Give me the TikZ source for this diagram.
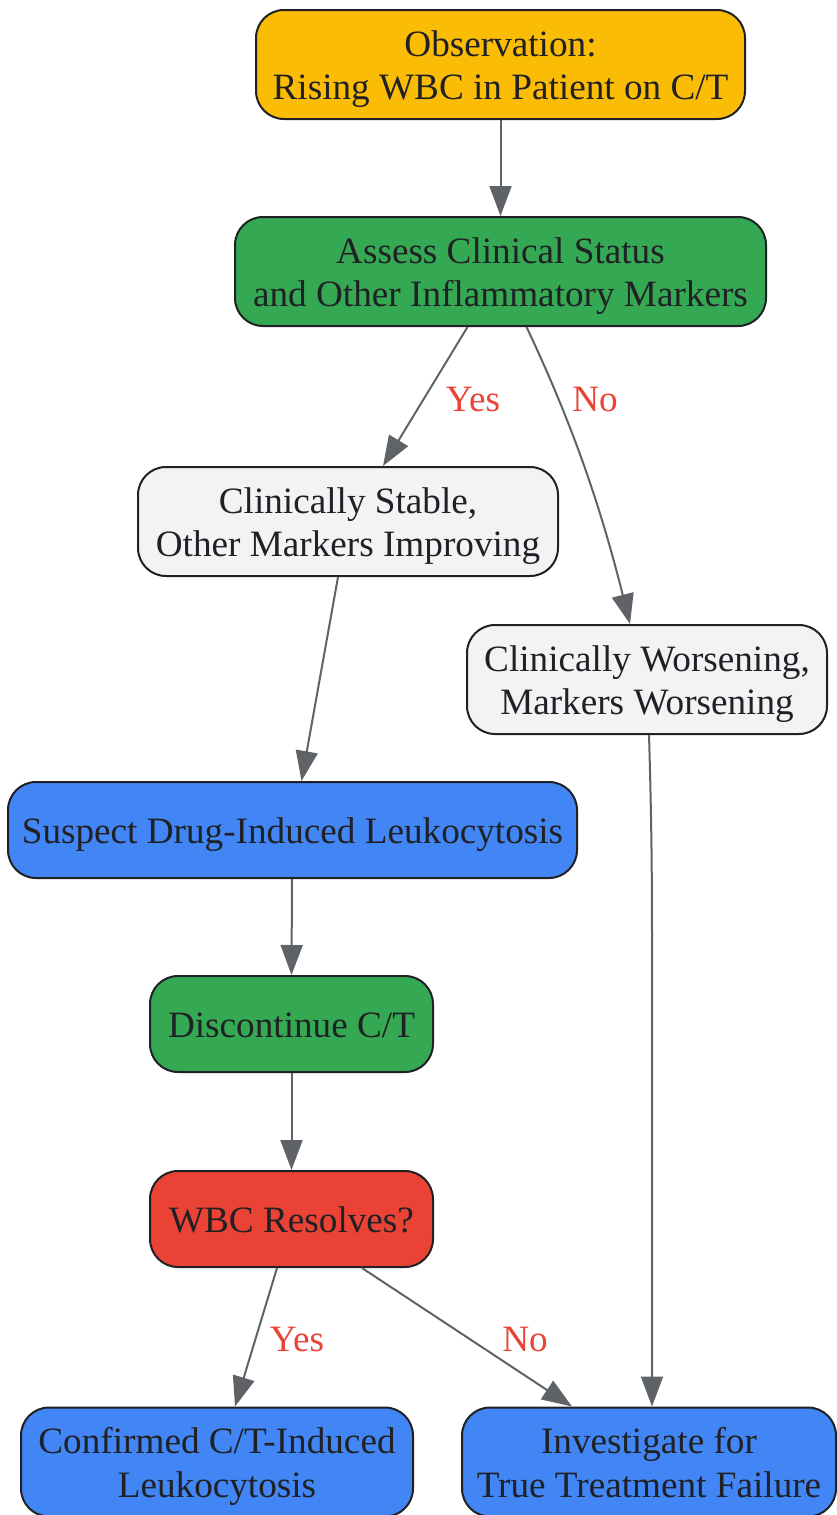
\documentclass[tikz,border=0pt]{standalone}
\usepackage{fontspec}
\setmainfont{Liberation Serif}
\usetikzlibrary{arrows.meta,calc}
\definecolor{gyellow}{HTML}{FBBC05}
\definecolor{ggreen}{HTML}{34A853}
\definecolor{gblue}{HTML}{4285F4}
\definecolor{gred}{HTML}{EA4335}
\definecolor{ggray}{HTML}{F1F3F4}
\definecolor{edgec}{HTML}{5F6368}
\definecolor{txt}{HTML}{202124}
\definecolor{lbl}{HTML}{EA4335}
\renewcommand\arraystretch{0}
\newcommand\lnstrut{\rule[-4.1pt]{0pt}{21.8pt}}
\newcommand\ml[1]{\begin{tabular}{@{}c@{}}#1\end{tabular}}
\tikzset{
  box/.style={rounded corners=14pt, draw=txt, line width=1pt,
    inner sep=0pt, text=txt, font=\fontsize{18.6}{21.65}\selectfont},
  arr/.style={draw=edgec, line width=1pt, -{Triangle[length=15pt,width=11pt]}},
  lab/.style={text=lbl, font=\fontsize{18.6}{21.65}\selectfont, inner sep=0pt}
}
\begin{document}
\begin{tikzpicture}[x=0.5pt,y=-0.5pt]
\useasboundingbox (0,0) rectangle (836,1515);
\node[box, fill=gyellow, minimum width=244.5pt, minimum height=54.5pt] (obs) at (500.5,64.5) {\ml{\lnstrut Observation:\\\lnstrut Rising WBC in Patient on C/T}};
\node[box, fill=ggreen, minimum width=265.5pt, minimum height=54.5pt] (assess) at (500.5,271.5) {\ml{\lnstrut Assess Clinical Status\\\lnstrut and Other Inflammatory Markers}};
\node[box, fill=ggray, minimum width=210pt, minimum height=54.5pt] (stable) at (348,521.5) {\ml{\lnstrut Clinically Stable,\\\lnstrut Other Markers Improving}};
\node[box, fill=ggray, minimum width=180pt, minimum height=54.5pt] (worse) at (647,679.5) {\ml{\lnstrut Clinically Worsening,\\\lnstrut Markers Worsening}};
\node[box, fill=gblue, minimum width=284.5pt, minimum height=48pt] (suspect) at (292.5,830) {\ml{\lnstrut Suspect Drug-Induced Leukocytosis}};
\node[box, fill=ggreen, minimum width=141.5pt, minimum height=48pt] (disc) at (291.5,1024) {\ml{\lnstrut Discontinue C/T}};
\node[box, fill=gred, minimum width=141.5pt, minimum height=48pt] (wbc) at (291.5,1219) {\ml{\lnstrut WBC Resolves?}};
\node[box, fill=gblue, minimum width=196pt, minimum height=54.5pt] (conf) at (217,1462) {\ml{\lnstrut Confirmed C/T-Induced\\\lnstrut Leukocytosis}};
\node[box, fill=gblue, minimum width=187pt, minimum height=54.5pt] (inv) at (649,1462) {\ml{\lnstrut Investigate for\\\lnstrut True Treatment Failure}};

\draw[arr] (obs.south) -- (assess.north);
\draw[arr] ([xshift=-16.5pt]assess.south) -- ([xshift=17.5pt]stable.north);
\draw[arr] ([xshift=13pt]assess.south) .. controls +(45,95) and +(-30,-120) .. ([xshift=-8.5pt]worse.north);
\draw[arr] ([xshift=-5pt]stable.south) -- ([xshift=4.5pt]suspect.north);
\draw[arr] ([xshift=1pt]worse.south) .. controls +(3,100) and +(0,-60) .. ++(3,220) -- ([xshift=1.5pt]inv.north);
\draw[arr] ([xshift=-0.25pt]suspect.south) -- (disc.north);
\draw[arr] (disc.south) -- (wbc.north);
\draw[arr] ([xshift=-7.25pt]wbc.south) -- ([xshift=9pt]conf.north);
\draw[arr] ([xshift=35.25pt]wbc.south) -- ([xshift=-38.5pt]inv.north);

\node[lab] (l1) at (473,399) {Yes};
\node[lab] (l2) at (595,399) {No};
\node[lab] (l3) at (297,1339) {Yes};
\node[lab] (l4) at (525,1339) {No};
\end{tikzpicture}
\end{document}
